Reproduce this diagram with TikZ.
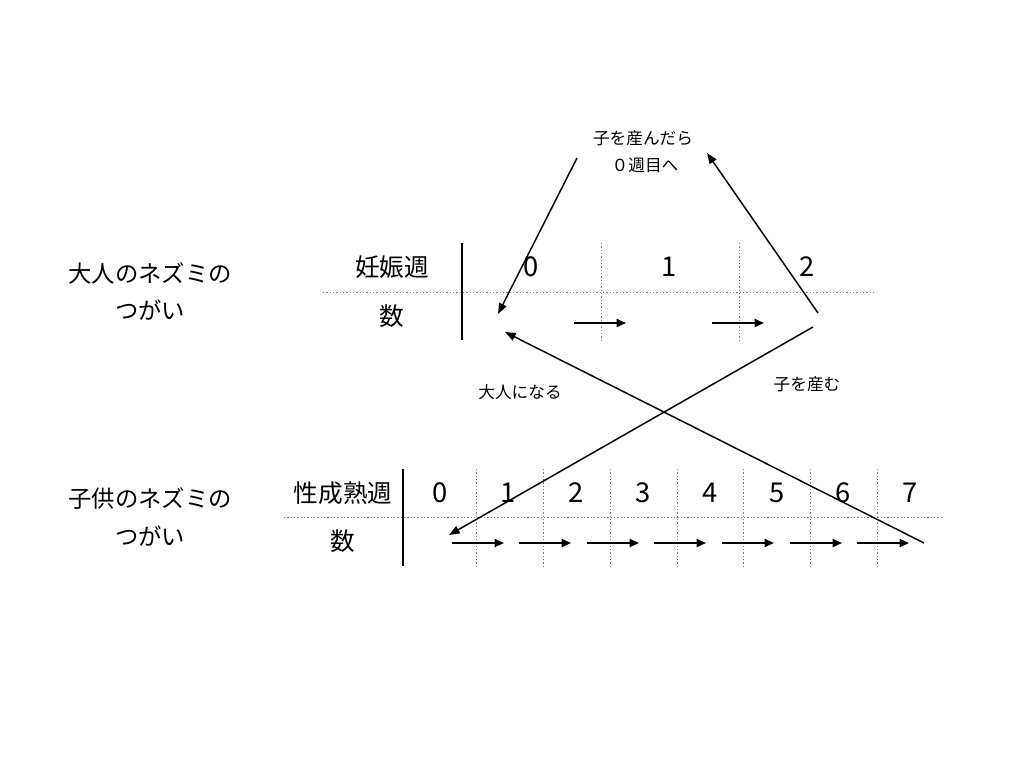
\documentclass[tikz,border=0pt]{standalone}
\usepackage{fontspec}
\setmainfont{Noto Sans CJK JP}
\usetikzlibrary{arrows.meta}
\begin{document}
\begin{tikzpicture}[x=0.75pt,y=-0.75pt,
  lbl/.style={inner sep=0pt,font=\fontsize{17.5}{21}\selectfont},
  hdr/.style={inner sep=0pt,font=\fontsize{18.5}{22}\selectfont},
  num/.style={inner sep=0pt,font=\fontsize{20.5}{24}\selectfont},
  small/.style={inner sep=0pt,font=\fontsize{12.5}{15}\selectfont},
  sep/.style={line width=2.2pt},
  grid/.style={gray,line width=0.6pt,dash pattern=on 1pt off 1.5pt},
  cellarrow/.style={line width=1.3pt,-{Triangle[length=7pt,width=6pt]}},
  flow/.style={line width=1.1pt,-{Triangle[length=8pt,width=6pt]}}]
\useasboundingbox (0,0) rectangle (1024,768);
% left labels
\node[lbl] (a1) at (150,273) {大人のネズミの};
\node[lbl] (a2) at (150,310) {つがい};
\node[lbl] (c1) at (150,499) {子供のネズミの};
\node[lbl] (c2) at (150,536) {つがい};
% top table
\node[hdr] (th) at (392,267) {妊娠週};
\node[hdr] (tn) at (392,316) {数};
\draw[sep] (462,243) coordinate (tv1) -- (462,340) coordinate (tv2);
\draw[grid] (323,292) -- (875,292);
\foreach \x in {601,739} \draw[grid] (\x,243) -- (\x,340);
\node[num] (t0) at (531,267) {0};
\node[num] (t1) at (669,267) {1};
\node[num] (t2) at (807,267) {2};
\coordinate (ta1s) at (574,323); \coordinate (ta1e) at (626,323);
\coordinate (ta2s) at (712,323); \coordinate (ta2e) at (764,323);
\draw[cellarrow] (ta1s) -- (ta1e);
\draw[cellarrow] (ta2s) -- (ta2e);
% bottom table
\node[hdr] (bh) at (343,493) {性成熟週};
\node[hdr] (bn) at (343,541) {数};
\draw[sep] (403,469) -- (403,566);
\draw[grid] (284,517) -- (942,517);
\foreach \x in {476,543,610,677,743,810,877} \draw[grid] (\x,469) -- (\x,566);
\foreach \i/\x in {0/440,1/508,2/576,3/643,4/710,5/777,6/843,7/910}
  \node[num] (b\i) at (\x,493) {\i};
\foreach \s/\e in {452/504,519/571,587/639,654/706,722/774,790/842,857/909}
  \draw[cellarrow] (\s,543) -- (\e,543);
% captions
\node[small] (l1) at (643,138) {子を産んだら};
\node[small] (l2) at (645,165) {０週目へ};
\node[small] (l3) at (520,392) {大人になる};
\node[small] (l4) at (807,384) {子を産む};
% long arrows
\coordinate (p1s) at (577,158); \coordinate (p1e) at (498,314);
\coordinate (p2s) at (818,313); \coordinate (p2e) at (707,153);
\coordinate (p3s) at (813,327); \coordinate (p3e) at (449,535);
\coordinate (p4s) at (924,543); \coordinate (p4e) at (505,332);
\draw[flow] (p1s) -- (p1e);
\draw[flow] (p2s) -- (p2e);
\draw[flow] (p3s) -- (p3e);
\draw[flow] (p4s) -- (p4e);
\end{tikzpicture}
\end{document}
